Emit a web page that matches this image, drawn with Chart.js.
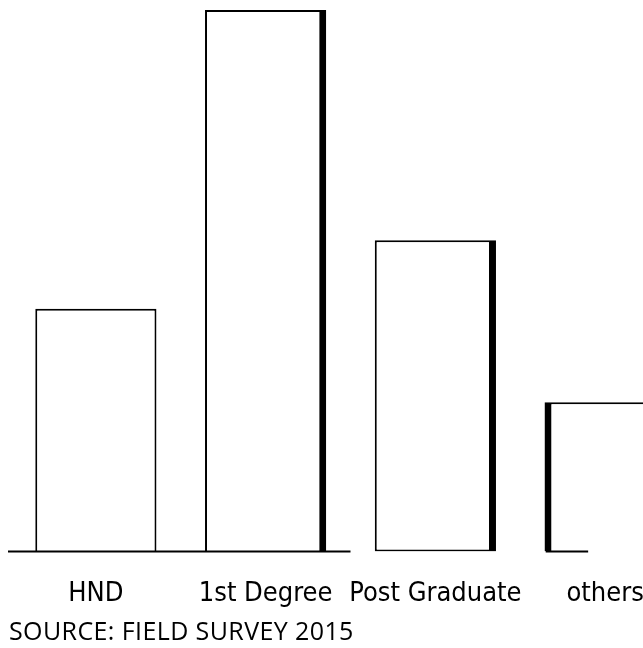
<!DOCTYPE html>
<html>
<head>
<meta charset="utf-8">
<script src="https://cdn.jsdelivr.net/npm/chart.js@4.4.1/dist/chart.umd.min.js"></script>
<style>
  body { margin: 0; background: #fff; overflow: hidden; width: 643px; height: 648px; position: relative; }
  #wrap { position: absolute; left: 0; top: 0; width: 690px; height: 648px; }
  #source { position: absolute; left: 9px; top: 613px; font-family: "Open Sans", sans-serif; font-size: 25px; letter-spacing: 0.4px; color: #000; white-space: nowrap; }
</style>
</head>
<body>
<div id="wrap"><canvas id="eduChart"></canvas></div>
<div id="source">SOURCE: FIELD SURVEY 2015</div>
<script>
const categories = ["HND", "1st Degree", "Post Graduate", "others"];
const respondents = [39, 87, 50, 24];

// outline widths per bar (thick edge drawn the way the original sketch has them)
const edgeWidths = [
  { top: 2, right: 2, bottom: 0, left: 2 },
  { top: 2, right: 7, bottom: 0, left: 2 },
  { top: 2, right: 7, bottom: 2, left: 2 },
  { top: 2, right: 2, bottom: 0, left: 7 }
];

const baseline = {
  id: "baseline",
  afterDatasetsDraw(chart) {
    const ctx = chart.ctx;
    const x = chart.scales.x;
    const y0 = chart.scales.y.getPixelForValue(0);
    ctx.save();
    ctx.strokeStyle = "#000";
    ctx.lineWidth = 2;
    ctx.beginPath();
    ctx.moveTo(chart.chartArea.left - 3, y0);
    ctx.lineTo(x.getPixelForValue(1.5), y0);
    ctx.moveTo(x.getPixelForValue(2.65), y0);
    ctx.lineTo(x.getPixelForValue(2.9), y0);
    ctx.stroke();
    ctx.restore();
  }
};

new Chart(document.getElementById("eduChart"), {
  type: "bar",
  data: {
    labels: categories,
    datasets: [{
      data: respondents,
      backgroundColor: "#fff",
      borderColor: "#000",
      borderWidth: edgeWidths,
      borderSkipped: false,
      categoryPercentage: 1,
      barPercentage: 0.714
    }]
  },
  options: {
    responsive: true,
    maintainAspectRatio: false,
    animation: false,
    layout: { padding: { left: 11, right: 0, top: 10, bottom: 12 } },
    plugins: {
      legend: { display: false },
      tooltip: { enabled: false }
    },
    scales: {
      x: {
        grid: { display: false, drawTicks: false },
        border: { display: false },
        ticks: {
          color: "#000",
          padding: 26,
          maxRotation: 0,
          autoSkip: false,
          font: { family: "'Liberation Sans Narrow', 'DejaVu Sans Condensed', sans-serif", size: 27 }
        }
      },
      y: {
        display: false,
        min: 0,
        max: 87
      }
    }
  },
  plugins: [baseline]
});
</script>
</body>
</html>
